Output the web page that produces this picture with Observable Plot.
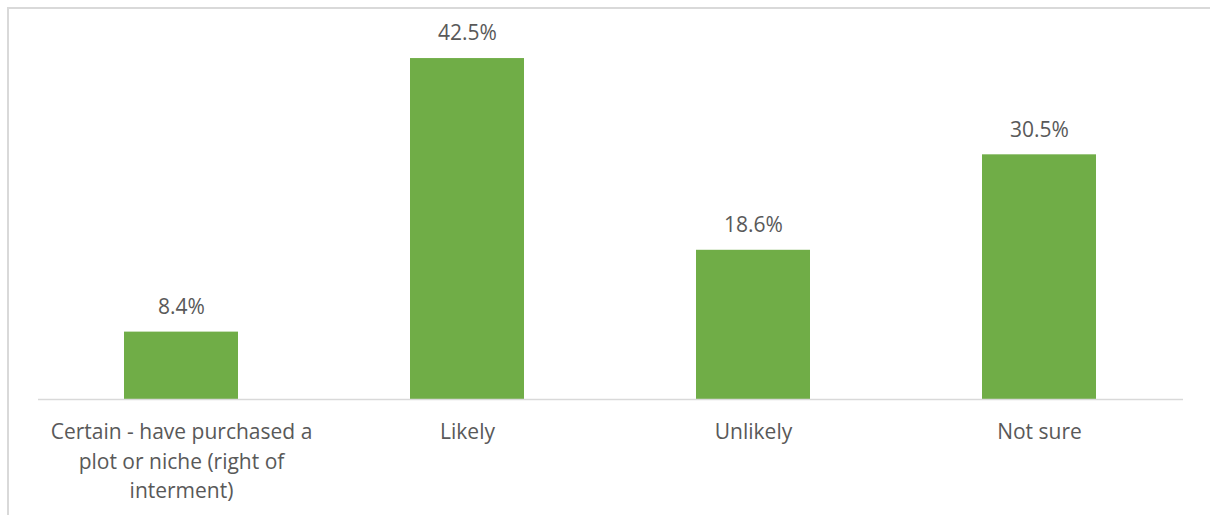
<!DOCTYPE html>
<html>
<head>
<meta charset="utf-8">
<script src="https://cdn.jsdelivr.net/npm/d3@7"></script>
<script src="https://cdn.jsdelivr.net/npm/@observablehq/plot@0.6"></script>
<style>
  html, body { margin: 0; padding: 0; background: #fff; }
  #wrap { position: relative; width: 1210px; height: 515px; overflow: hidden; }
  #frame { position: absolute; left: 7px; top: 7px; width: 1220px; height: 530px; border: 2px solid #d9d9d9; box-sizing: border-box; }
  #chart { position: absolute; left: 0; top: 0; }
</style>
</head>
<body>
<div id="wrap"><div id="frame"></div><div id="chart"></div></div>
<script>
const categories = ["Certain", "Likely", "Unlikely", "Not sure"];
const tickLabels = ["Certain - have purchased a\nplot or niche (right of\ninterment)", "Likely", "Unlikely", "Not sure"];
const values = [8.4, 42.5, 18.6, 30.5];

const data = categories.map((c, i) => ({category: c, value: values[i], label: tickLabels[i]}));
const labelOf = new Map(data.map(d => [d.category, d.label]));

const chart = Plot.plot({
  width: 1210,
  height: 515,
  marginLeft: 38,
  marginRight: 27,
  marginTop: 38,
  marginBottom: 116,
  style: {fontFamily: "'Open Sans', 'Noto Sans', sans-serif", background: "transparent", color: "#595959"},
  x: {domain: categories, paddingInner: 0.6, paddingOuter: 0.3, label: null},
  y: {domain: [0, 45], axis: null},
  marks: [
    Plot.barY(data, {x: "category", y: "value", fill: "#70ad47"}),
    Plot.ruleY([0], {stroke: "#d9d9d9", strokeWidth: 1.5}),
    Plot.text(data, {x: "category", y: "value", text: d => d.value.toFixed(1) + "%", dy: -25, fontSize: 21, fill: "#595959"}),
    Plot.axisX({tickSize: 0, tickPadding: 19, fontSize: 21, lineHeight: 1.4, fill: "#595959", tickFormat: c => labelOf.get(c), label: null})
  ]
});
document.getElementById("chart").appendChild(chart);
</script>
</body>
</html>
